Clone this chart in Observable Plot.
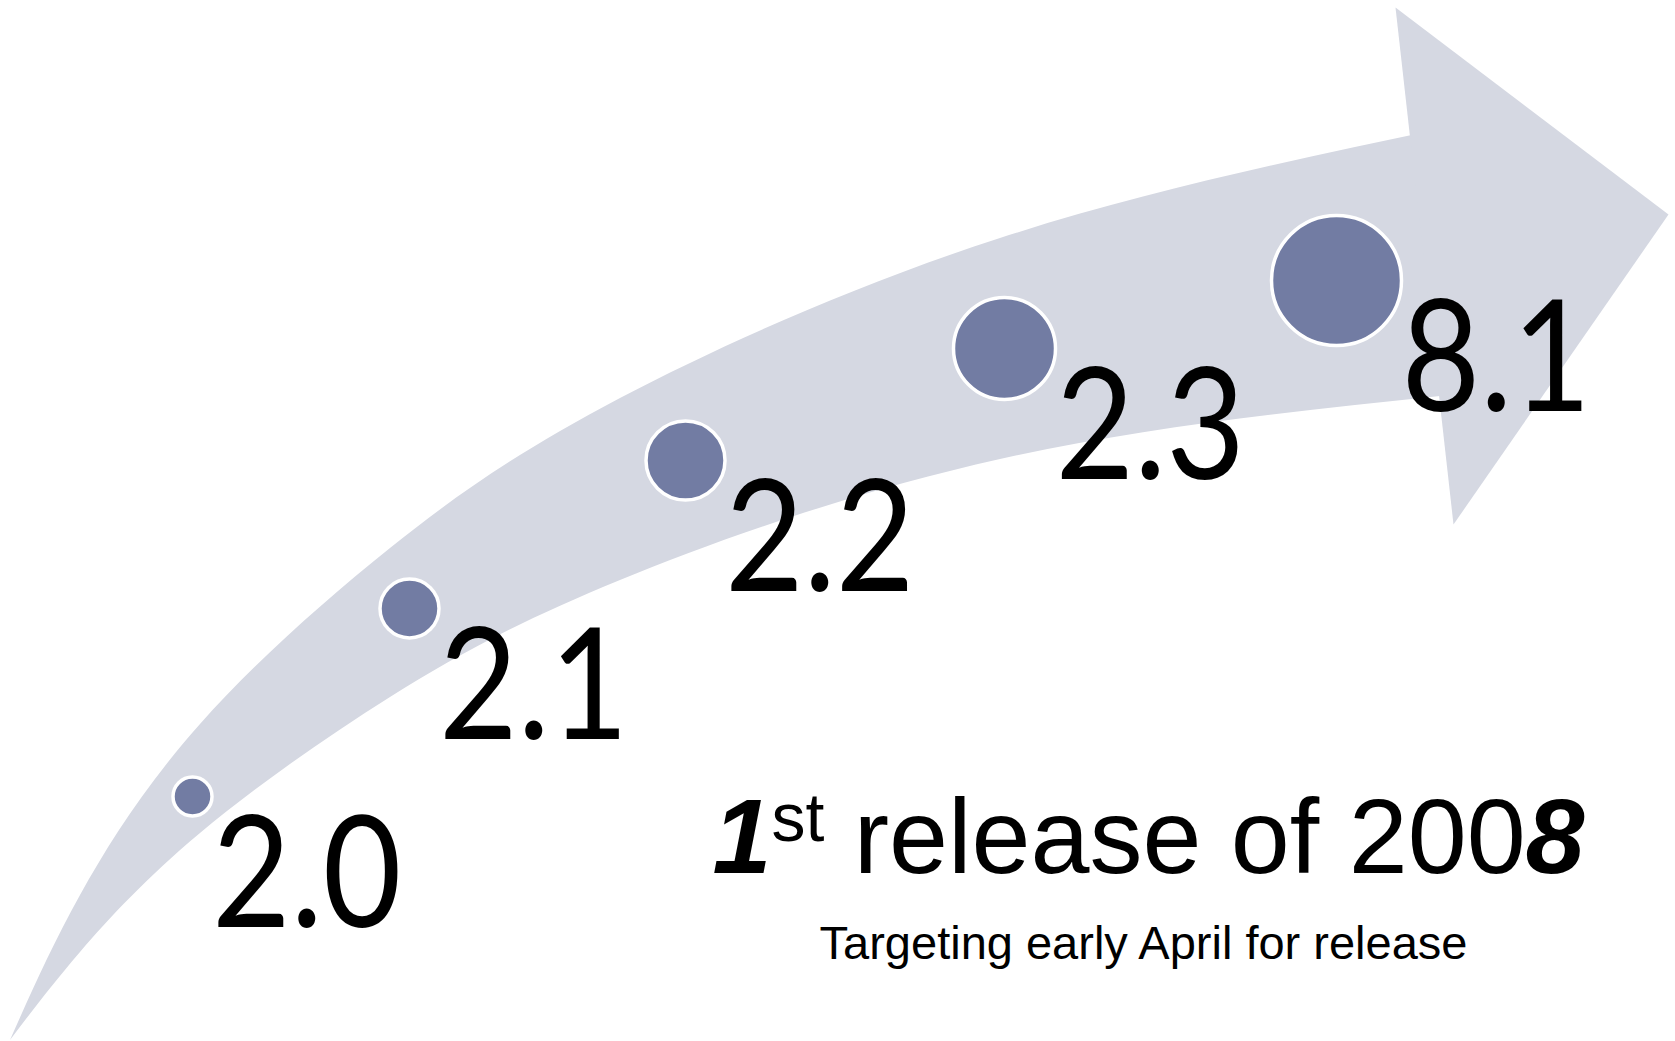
<!DOCTYPE html>
<html>
<head>
<meta charset="utf-8">
<script src="https://cdn.jsdelivr.net/npm/d3@7"></script>
<script src="https://cdn.jsdelivr.net/npm/@observablehq/plot@0.6"></script>
<style>
  html, body { margin: 0; padding: 0; background: #ffffff; overflow: hidden; }
  #chart { width: 1675px; height: 1041px; }
</style>
</head>
<body>
<div id="chart"></div>
<script>
// ---- data (canvas units: 1675 x 1041, y grows downward) ----
const versions = ["2.0", "2.1", "2.2", "2.3", "8.1"];
const centerX  = [192, 409, 685, 1004, 1336];
const centerY  = [796, 608, 460, 348, 280];
const radius   = [19.5, 29.5, 39.5, 51, 65];

// curved shaft of the arrow: upper and lower edges sampled at shared x positions
const shaftX     = [10, 80, 200, 390, 620, 1000, 1440];
const shaftUpper = [1040, 895, 724, 548, 398, 238, 129];
const shaftLower = [1040, 952, 833, 697, 580, 459, 396];

// arrow head corners
const headX = [1395, 1668, 1453];
const headY = [7, 214, 524];

// annotation text
const headline = "1st release of 2008";
const subline  = "Targeting early April for release";
const headlinePos = [1148, 872];
const sublinePos  = [1143, 958];

// ---- build tables ----
const shaft = shaftX.map((x, i) => ({x, upper: shaftUpper[i], lower: shaftLower[i]}));
const head = headX.map((x, i) => ({x, y: headY[i]}));
const releases = versions.map((v, i) => ({version: v, x: centerX[i], y: centerY[i], r: radius[i]}));

const arrowColor = "#d5d8e2";
const dotColor = "#727ca3";

const svg = Plot.plot({
  width: 1675,
  height: 1041,
  margin: 0,
  x: {domain: [0, 1675], range: [0, 1675], axis: null},
  y: {domain: [0, 1041], range: [0, 1041], axis: null},
  r: {type: "identity"},
  style: {background: "white", overflow: "visible"},
  marks: [
    Plot.areaY(shaft, {x: "x", y1: "upper", y2: "lower", fill: arrowColor, curve: "natural"}),
    Plot.line(head, {x: "x", y: "y", fill: arrowColor, stroke: "none", curve: "linear"}),
    Plot.dot(releases, {x: "x", y: "y", r: "r", fill: dotColor, stroke: "white", strokeWidth: 3.5}),
    Plot.text(releases, {
      x: d => d.x + d.r, y: d => d.y + 130, text: "version",
      textAnchor: "start", lineAnchor: "bottom",
      fontSize: 156, fontFamily: "Lato, 'Open Sans', sans-serif", fill: "black"
    }),
    Plot.text([headline], {
      x: () => headlinePos[0], y: () => headlinePos[1], text: d => d,
      textAnchor: "middle", lineAnchor: "bottom",
      fontSize: 106, fontFamily: "'Liberation Sans', Arial, sans-serif", fill: "black"
    }),
    Plot.text([subline], {
      x: () => sublinePos[0], y: () => sublinePos[1], text: d => d,
      textAnchor: "middle", lineAnchor: "bottom",
      fontSize: 47, fontFamily: "'Liberation Sans', Arial, sans-serif", fill: "black"
    })
  ]
});
document.getElementById("chart").append(svg);

// ---- typographic touches ----
const textGroups = svg.querySelectorAll('g[aria-label="text"]');
// narrower numerals, like the Gill Sans in the original
textGroups[0].querySelectorAll("text").forEach(t => {
  const w = t.getComputedTextLength();
  t.setAttribute("textLength", (w * 0.87).toFixed(1));
  t.setAttribute("lengthAdjust", "spacingAndGlyphs");
});
// "1st release of 2008" with bold-italic 1 and 8 and a superscript "st"
const ht = textGroups[1].querySelector("text");
if (ht) {
  const ns = "http://www.w3.org/2000/svg";
  const parts = [
    {s: headline.slice(0, 1), bi: true},
    {s: headline.slice(1, 3), sup: true},
    {s: headline.slice(3, -1), back: true},
    {s: headline.slice(-1), bi: true}
  ];
  ht.textContent = "";
  for (const p of parts) {
    const ts = document.createElementNS(ns, "tspan");
    ts.textContent = p.s;
    if (p.bi) { ts.setAttribute("font-weight", "bold"); ts.setAttribute("font-style", "italic"); }
    if (p.sup) { ts.setAttribute("font-size", "68"); ts.setAttribute("dy", "-32"); }
    if (p.back) { ts.setAttribute("dy", "32"); }
    ht.append(ts);
  }
}
</script>
</body>
</html>
